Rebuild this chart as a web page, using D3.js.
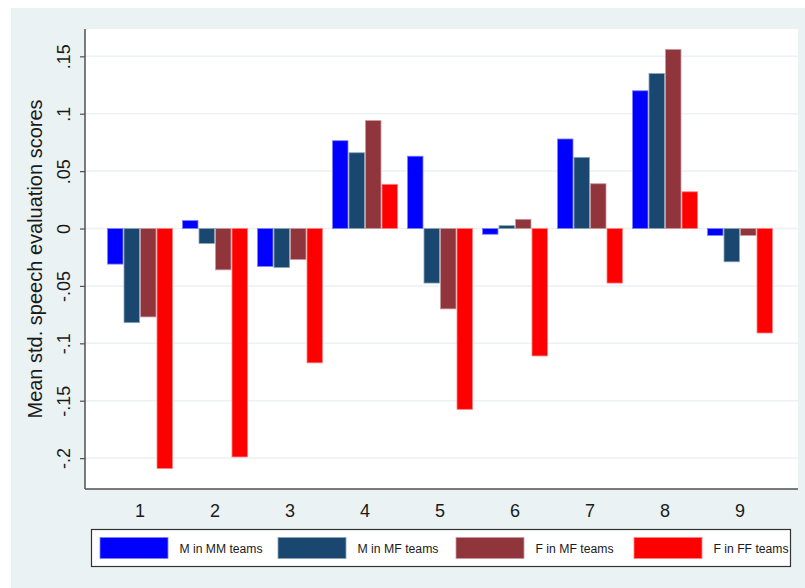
<!DOCTYPE html>
<html>
<head>
<meta charset="utf-8">
<script src="https://cdn.jsdelivr.net/npm/d3@7"></script>
<style>
  html, body { margin: 0; padding: 0; background: #ffffff; }
  svg { display: block; font-family: "Liberation Sans", Arial, sans-serif; }
</style>
</head>
<body>
<svg id="chart" width="805" height="588"></svg>
<script>
// Speech evaluation scores by round and team composition
const categories = ["1", "2", "3", "4", "5", "6", "7", "8", "9"];
const seriesNames = ["M in MM teams", "M in MF teams", "F in MF teams", "F in FF teams"];
const mInMM = [-0.031, 0.007, -0.033, 0.0765, 0.063, -0.005, 0.078, 0.120, -0.006];
const mInMF = [-0.082, -0.013, -0.034, 0.066, -0.0475, 0.0025, 0.062, 0.135, -0.029];
const fInMF = [-0.077, -0.036, -0.027, 0.094, -0.070, 0.008, 0.039, 0.156, -0.006];
const fInFF = [-0.209, -0.199, -0.117, 0.0385, -0.1575, -0.111, -0.0475, 0.032, -0.091];
const yTicks = [-0.2, -0.15, -0.1, -0.05, 0, 0.05, 0.1, 0.15];
const yTickLabels = ["-.2", "-.15", "-.1", "-.05", "0", ".05", ".1", ".15"];

const seriesValues = [mInMM, mInMF, fInMF, fInFF];
const fills = ["#0000ff", "#1a476f", "#90353b", "#ff0000"];
const outlines = ["#8080ff", "#8ca3b7", "#c89a9d", "#ff8080"];

const svg = d3.select("#chart");

// outer panel
svg.append("rect").attr("x", 11).attr("y", 8).attr("width", 794).attr("height", 580)
  .attr("fill", "#eaf2f3");

const plot = { left: 85, right: 798, top: 29, bottom: 489 };
svg.append("rect").attr("x", plot.left).attr("y", plot.top)
  .attr("width", plot.right - plot.left).attr("height", plot.bottom - plot.top)
  .attr("fill", "#ffffff");

const y = d3.scaleLinear().domain([-0.2269, 0.1738]).range([plot.bottom, plot.top]);
const x = d3.scaleBand().domain(categories).range([102.5, 777.5]).paddingInner(0.12).paddingOuter(0.06);
const xs = d3.scaleBand().domain(d3.range(4)).range([0, x.bandwidth()]);

// gridlines
svg.append("g").selectAll("line").data(yTicks).join("line")
  .attr("x1", plot.left).attr("x2", plot.right)
  .attr("y1", d => y(d)).attr("y2", d => y(d))
  .attr("stroke", "#eaf2f3").attr("stroke-width", 1.5);

// bars
const groups = svg.append("g").selectAll("g").data(categories).join("g")
  .attr("transform", d => `translate(${x(d)},0)`);
groups.selectAll("rect").data((d, i) => seriesValues.map((s, k) => ({ k, v: s[i] }))).join("rect")
  .attr("x", d => xs(d.k) + 0.5)
  .attr("width", xs.bandwidth() - 1)
  .attr("y", d => Math.min(y(d.v), y(0)))
  .attr("height", d => Math.abs(y(d.v) - y(0)))
  .attr("fill", d => fills[d.k])
  .attr("stroke", d => outlines[d.k])
  .attr("stroke-width", 0.8);

// y axis
const yAxis = d3.axisLeft(y).tickValues(yTicks).tickSize(5).tickPadding(0)
  .tickFormat((d, i) => yTickLabels[i]);
const gy = svg.append("g").attr("transform", `translate(${plot.left},0)`).call(yAxis);
gy.select(".domain").attr("stroke", "#505050").attr("stroke-width", 1.5)
  .attr("d", `M0,${plot.top}V${plot.bottom}`);
gy.selectAll(".tick line").attr("stroke", "#505050").attr("stroke-width", 1.2);
gy.selectAll(".tick text")
  .attr("x", 0).attr("y", 0).attr("dy", 0)
  .attr("transform", "translate(-15,0) rotate(-90)")
  .attr("text-anchor", "middle")
  .attr("font-size", 18).attr("fill", "#1a1a1a")
  .attr("font-family", "Liberation Sans, Arial, sans-serif");

// x axis
const xAxis = d3.axisBottom(x).tickSize(0).tickPadding(0);
const gx = svg.append("g").attr("transform", `translate(0,${plot.bottom})`).call(xAxis);
gx.select(".domain").attr("stroke", "#505050").attr("stroke-width", 1.5)
  .attr("d", `M${plot.left},0H${plot.right}`);
gx.selectAll(".tick text").attr("y", 28).attr("dy", 0)
  .attr("font-size", 18).attr("fill", "#1a1a1a")
  .attr("font-family", "Liberation Sans, Arial, sans-serif");

// y axis title
svg.append("text")
  .attr("transform", `translate(42,${(plot.top + plot.bottom) / 2}) rotate(-90)`)
  .attr("text-anchor", "middle").attr("font-size", 20).attr("fill", "#1a1a1a")
  .text("Mean std. speech evaluation scores");

// legend
const legend = svg.append("g");
legend.append("rect").attr("x", 91.5).attr("y", 529.5).attr("width", 699).attr("height", 37)
  .attr("fill", "#ffffff").attr("stroke", "#333333").attr("stroke-width", 1.2);
const entries = legend.selectAll("g").data(seriesNames).join("g")
  .attr("transform", (d, i) => `translate(${100 + i * 178},0)`);
entries.append("rect").attr("x", 0).attr("y", 537.5).attr("width", 68).attr("height", 21)
  .attr("fill", (d, i) => fills[i]).attr("stroke", (d, i) => outlines[i]).attr("stroke-width", 0.8);
entries.append("text").attr("x", 79.5).attr("y", 552.5)
  .attr("font-size", 12.5).attr("fill", "#1a1a1a")
  .attr("textLength", (d, i) => [83, 81, 78, 75][i]).attr("lengthAdjust", "spacingAndGlyphs")
  .text(d => d);
</script>
</body>
</html>
